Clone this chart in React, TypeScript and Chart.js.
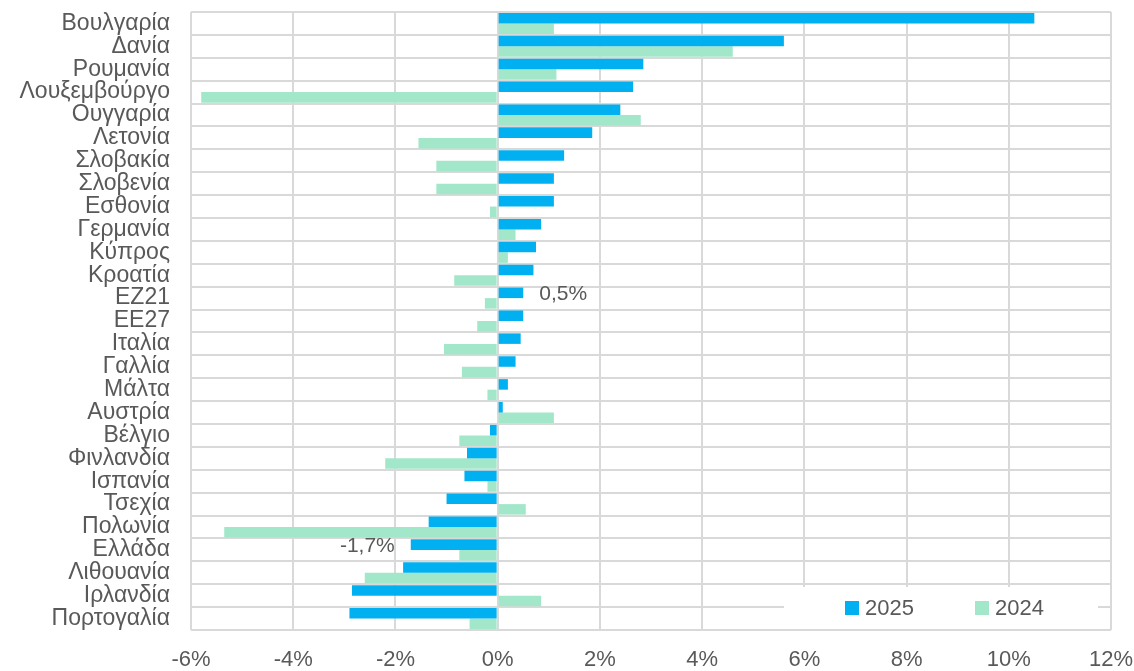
import React, { useEffect, useRef } from "react";
import { Chart, registerables } from "chart.js";

Chart.register(...registerables);

const categories = [
  "Βουλγαρία", "Δανία", "Ρουμανία", "Λουξεμβούργο", "Ουγγαρία", "Λετονία",
  "Σλοβακία", "Σλοβενία", "Εσθονία", "Γερμανία", "Κύπρος", "Κροατία",
  "ΕΖ21", "ΕΕ27", "Ιταλία", "Γαλλία", "Μάλτα", "Αυστρία", "Βέλγιο",
  "Φινλανδία", "Ισπανία", "Τσεχία", "Πολωνία", "Ελλάδα", "Λιθουανία",
  "Ιρλανδία", "Πορτογαλία",
];

const values2025 = [
  10.5, 5.6, 2.85, 2.65, 2.4, 1.85, 1.3, 1.1, 1.1, 0.85, 0.75, 0.7,
  0.5, 0.5, 0.45, 0.35, 0.2, 0.1, -0.15, -0.6, -0.65, -1.0, -1.35, -1.7,
  -1.85, -2.85, -2.9,
];

const values2024 = [
  1.1, 4.6, 1.15, -5.8, 2.8, -1.55, -1.2, -1.2, -0.15, 0.35, 0.2, -0.85,
  -0.25, -0.4, -1.05, -0.7, -0.2, 1.1, -0.75, -2.2, -0.2, 0.55, -5.35, -0.75,
  -2.6, 0.85, -0.55,
];

const seriesNames = ["2025", "2024"];
const xTicks = [-6, -4, -2, 0, 2, 4, 6, 8, 10, 12];
const annotated = [
  { category: "ΕΖ21", text: "0,5%" },
  { category: "Ελλάδα", text: "-1,7%" },
];

const BLUE = "#00B0F0";
const GREEN = "#A3E7CA";
const TEXT = "#595959";
const GRID = "#D9D9D9";
const FONT = "'Liberation Sans', Arial, sans-serif";

const labelPlugin = {
  id: "labelsAndLegend",
  afterDatasetsDraw(chart: any) {
    const ctx = chart.ctx;
    const meta = chart.getDatasetMeta(0);
    ctx.save();
    ctx.fillStyle = TEXT;
    ctx.font = `21px ${FONT}`;
    ctx.textBaseline = "middle";
    annotated.forEach((a) => {
      const i = categories.indexOf(a.category);
      const bar = meta.data[i];
      const v = values2025[i];
      if (v >= 0) {
        ctx.textAlign = "left";
        ctx.fillText(a.text, bar.x + 16, bar.y + 1);
      } else {
        ctx.textAlign = "right";
        ctx.fillText(a.text, bar.x - 16, bar.y + 2);
      }
    });
    // legend box
    const area = chart.chartArea;
    ctx.fillStyle = "#ffffff";
    ctx.fillRect(784, 587, 314, area.bottom - 588);
    const items = [
      { name: seriesNames[0], color: BLUE, x: 845 },
      { name: seriesNames[1], color: GREEN, x: 975 },
    ];
    ctx.font = `22px ${FONT}`;
    ctx.textAlign = "left";
    items.forEach((it) => {
      ctx.fillStyle = it.color;
      ctx.fillRect(it.x, 601, 14, 14);
      ctx.fillStyle = TEXT;
      ctx.fillText(it.name, it.x + 20, 609);
    });
    ctx.restore();
  },
};

const zeroPad = (scale: any) => {
  scale.paddingTop = 0;
  scale.paddingBottom = 0;
  scale.paddingLeft = 0;
  scale.paddingRight = 0;
};

export default function App() {
  const ref = useRef<HTMLCanvasElement>(null);
  useEffect(() => {
    if (!ref.current) return;
    const chart = new Chart(ref.current, {
      type: "bar",
      data: {
        labels: categories,
        datasets: [
          { label: seriesNames[0], data: values2025, backgroundColor: BLUE },
          { label: seriesNames[1], data: values2024, backgroundColor: GREEN },
        ],
      },
      options: {
        indexAxis: "y",
        responsive: false,
        animation: false,
        maintainAspectRatio: false,
        layout: { padding: { left: 0, right: 23, top: 12, bottom: 0 } },
        datasets: { bar: { categoryPercentage: 0.92, barPercentage: 1.0 } },
        plugins: { legend: { display: false }, tooltip: { enabled: false } },
        scales: {
          x: {
            min: -6,
            max: 12,
            afterBuildTicks: (scale: any) => {
              scale.ticks = xTicks.map((v) => ({ value: v }));
            },
            afterFit: (scale: any) => {
              scale.height = 41;
              zeroPad(scale);
            },
            grid: { color: GRID, lineWidth: 2, drawTicks: false },
            border: { display: false },
            ticks: {
              color: TEXT,
              font: { family: FONT, size: 22 },
              padding: 17,
              maxRotation: 0,
              callback: (v: any) => `${v}%`,
            },
          },
          y: {
            afterFit: (scale: any) => {
              scale.width = 191;
              zeroPad(scale);
            },
            grid: { color: GRID, lineWidth: 2, drawTicks: false, offset: true },
            border: { display: false },
            ticks: {
              color: TEXT,
              font: { family: FONT, size: 23 },
              padding: 21,
              autoSkip: false,
            },
          },
        },
      },
      plugins: [labelPlugin],
    });
    return () => chart.destroy();
  }, []);
  return (
    <div style={{ position: "absolute", left: 0, top: 0, width: 1134, height: 671, background: "#fff" }}>
      <canvas ref={ref} width={1134} height={671} style={{ width: 1134, height: 671 }} />
    </div>
  );
}
